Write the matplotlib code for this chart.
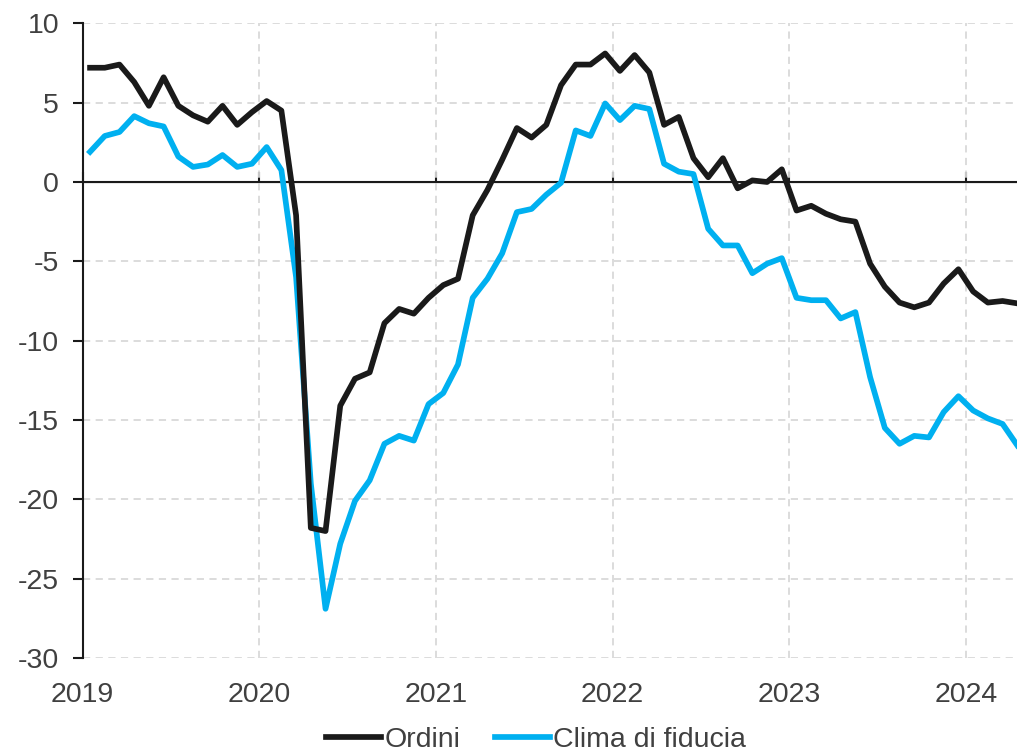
import numpy as np
import matplotlib.pyplot as plt

plt.rcParams['font.family'] = ['Liberation Sans', 'DejaVu Sans']
plt.rcParams['axes.unicode_minus'] = False

# monthly data, Jan 2019 - Apr 2024
years = [2019, 2020, 2021, 2022, 2023, 2024]
ordini = [7.2, 7.2, 7.4, 6.3, 4.8, 6.6, 4.8, 4.2, 3.8, 4.8, 3.6, 4.4,
          5.1, 4.5, -2.1, -21.8, -22.0, -14.1, -12.4, -12.0, -8.9, -8.0, -8.3, -7.3,
          -6.5, -6.1, -2.1, -0.5, 1.4, 3.4, 2.8, 3.6, 6.1, 7.4, 7.4, 8.1,
          7.0, 8.0, 6.9, 3.6, 4.1, 1.5, 0.3, 1.5, -0.4, 0.1, 0.0, 0.8,
          -1.8, -1.5, -2.0, -2.35, -2.5, -5.15, -6.6, -7.6, -7.9, -7.6, -6.4, -5.5,
          -6.9, -7.6, -7.5, -7.65]
clima = [1.9, 2.9, 3.15, 4.15, 3.7, 3.5, 1.6, 0.95, 1.1, 1.7, 0.95, 1.15,
         2.2, 0.75, -6.0, -19.0, -26.9, -22.8, -20.1, -18.8, -16.5, -16.0, -16.3, -14.0,
         -13.3, -11.5, -7.3, -6.1, -4.5, -1.9, -1.7, -0.8, -0.05, 3.25, 2.9, 4.95,
         3.9, 4.8, 4.6, 1.15, 0.65, 0.5, -2.95, -4.0, -4.0, -5.75, -5.15, -4.8,
         -7.3, -7.45, -7.45, -8.6, -8.2, -12.3, -15.5, -16.5, -16.0, -16.1, -14.5, -13.5,
         -14.4, -14.9, -15.25, -16.6]

# points sit in the middle of each month
x = 2019 + (np.arange(len(ordini)) + 0.5) / 12

txt = '#404040'
fs = 20.5
fig = plt.figure(figsize=(10.17, 7.52), dpi=100)
ax = fig.add_axes([0.0813, 0.125, 0.9187, 0.844])

ax.plot(x, ordini, color='#1a1a1a', lw=4.1, label='Ordini', zorder=4)
ax.plot(x, clima, color='#00b0f0', lw=4.1, label='Clima di fiducia', zorder=3)

ax.set_ylim(-30, 10)
ax.set_xlim(2019, 2024.29)
ax.set_yticks(np.arange(-30, 11, 5))
ax.set_xticks(years)
ax.set_xticklabels([str(y) for y in years])

ax.grid(True, color='#d9d9d9', ls=(0, (4, 3)), lw=1.3)
ax.set_axisbelow(True)
for s in ['top', 'right', 'bottom']:
    ax.spines[s].set_visible(False)
ax.spines['left'].set_color('#1a1a1a')
ax.spines['left'].set_linewidth(1.5)

ax.tick_params(axis='y', direction='out', length=7, width=1.5, color='#1a1a1a',
               labelsize=fs, labelcolor=txt, pad=10)
ax.tick_params(axis='x', length=0, labelsize=fs, labelcolor=txt, pad=17)

# zero line acts as the x axis, with small ticks
ax.axhline(0, color='#1a1a1a', lw=1.5, zorder=2)
sec = ax.secondary_xaxis(0.75)
sec.set_xticks(years)
sec.set_xticklabels([])
sec.tick_params(direction='out', length=7, width=1.5, color='#1a1a1a')
sec.spines['bottom'].set_visible(False)

fig.legend(loc='lower center', bbox_to_anchor=(0.527, -0.035), ncol=2, frameon=False,
           fontsize=fs, handlelength=1.95, handletextpad=0.12, columnspacing=1.2,
           labelcolor=txt)

fig.savefig('out.png', dpi=100)
